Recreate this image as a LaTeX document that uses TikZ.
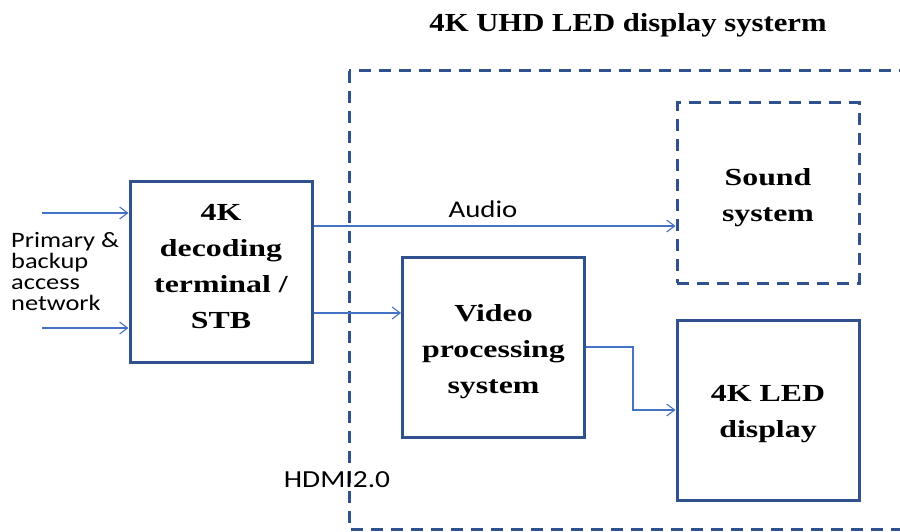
\documentclass[tikz,border=0pt]{standalone}
\usepackage{fontspec}
\usepackage{xcolor}
\usetikzlibrary{calc}
\usetikzlibrary{positioning}
\usetikzlibrary{arrows.meta}
\newfontfamily\boxfont[FakeStretch=1.18]{Liberation Serif}
\newfontfamily\wideboxfont[FakeStretch=1.3]{Liberation Serif}
\newfontfamily\labelfont[FakeStretch=1.2]{Carlito}
\definecolor{boxblue}{RGB}{47,82,143}
\definecolor{lineblue}{RGB}{68,114,196}

\begin{document}
\begin{tikzpicture}[x=1pt, y=-1pt, >={Straight Barb[length=8pt,width=12pt,line width=1.1pt]}]
			\tikzstyle{block}=[draw=boxblue,rectangle,line width=3pt,fill=none,minimum width=182pt,minimum height=180pt,inner sep=0pt,align=center,font=\wideboxfont\bfseries\fontsize{24.5}{36}\selectfont]
			\tikzstyle{dashblock}=[block,dash pattern=on 12pt off 8pt]
			\tikzstyle{flow}=[->,draw=lineblue,line width=1.3pt]
			\tikzstyle{lbl}=[inner sep=0pt,font=\labelfont\fontsize{22}{21}\selectfont]
			\useasboundingbox (0,0) rectangle (900,532);
			
			% display system frame
			\draw[boxblue,line width=3pt,dash pattern=on 12pt off 8pt] (349,71) rectangle (912,529);
			\node[anchor=base,inner sep=0pt,font=\boxfont\bfseries\fontsize{26}{30}\selectfont] (title) at (628,32) {4K UHD LED display systerm};
			
			\node[block] (stb) at (221,272) {4K\\decoding\\terminal /\\STB\\[-24pt]\mbox{}};
			\node[dashblock] (sound) at (768,193) {\mbox{}\\[-10pt]Sound\\system};
			\node[block, below=34pt of sound] (led) {\mbox{}\\[-12pt]4K LED\\display};
			\node[block] (vps) at (493.5,347) {\mbox{}\\[-10pt]Video\\processing\\system};
			
			\coordinate (in1) at (42,213);
			\coordinate (in2) at (42,328);
			\coordinate (au) at ($(sound.west)+(0,33)$);
			\coordinate (vi) at ($(vps.west)+(0,-34)$);
			
			\draw[flow] (in1) -- (in1 -| stb.west);
			\draw[flow] (in2) -- (in2 -| stb.west);
			\draw[flow] (au -| stb.east) -- (au);
			\draw[flow] (vi -| stb.east) -- (vi);
			\draw[flow] (vps.east) -- ++(47,0) |- (led.west);
			
			\node[lbl, align=left, anchor=west] (net) at (11,272) {Primary \&\\backup\\access\\network};
			\node[lbl, anchor=base, font=\labelfont\fontsize{24}{24}\selectfont] (audio) at (483,217) {Audio};
			\node[lbl, anchor=base, font=\labelfont\fontsize{24.5}{24}\selectfont] (hdmi) at (337,487) {HDMI2.0};
		\end{tikzpicture}
\end{document}
